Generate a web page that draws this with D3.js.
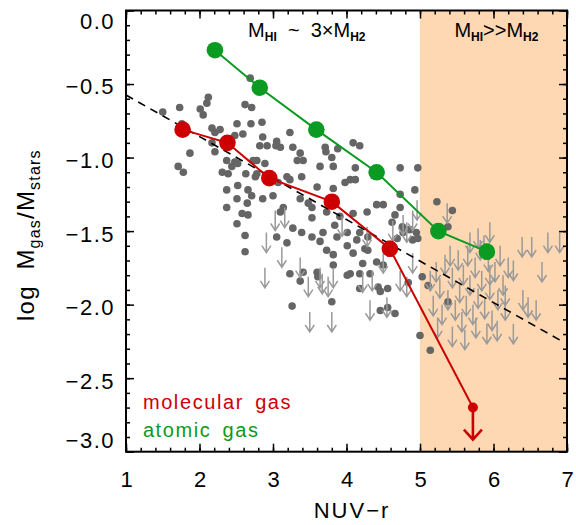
<!DOCTYPE html>
<html><head><meta charset="utf-8">
<script src="https://cdn.jsdelivr.net/npm/d3@7"></script>
<style>body{margin:0;background:#fff} svg{display:block}</style>
</head><body>
<script>
// ---- data ----
const xTicks = [1, 2, 3, 4, 5, 6, 7];
const xTickLabels = ["1", "2", "3", "4", "5", "6", "7"];
const yTicks = [0, -0.5, -1, -1.5, -2, -2.5, -3];
const yTickLabels = ["0.0", "\u22120.5", "\u22121.0", "\u22121.5", "\u22122.0", "\u22122.5", "\u22123.0"];
const hiDominatedRange = [5, 7];

const molX = [1.77, 2.38, 2.95, 3.80, 4.59];
const molY = [-0.81, -0.90, -1.14, -1.30, -1.62];
const molErr = [0.02, 0.04, 0.02, 0.02, 0.05];
const molLimitX = [5.72];
const molLimitY = [-2.70];

const atoX = [2.21, 2.82, 3.59, 4.41, 5.25, 5.91];
const atoY = [-0.27, -0.525, -0.81, -1.10, -1.50, -1.64];
const atoErr = [0.02, 0.02, 0.02, 0.02, 0.03, 0.05];

const fitX = [1.0, 6.9];
const fitY = [-0.575, -2.24];

const dotX = [1.50,1.73,2.12,2.10,2.01,2.05,2.62,2.71,1.76,1.87,1.71,1.78,2.17,2.21,2.28,2.17,2.21,2.51,2.48,2.59,
  2.70,2.85,2.86,2.82,2.92,3.05,3.04,3.10,3.23,3.27,3.37,3.33,3.41,3.71,3.72,3.88,3.80,4.09,4.18,2.37,
  2.48,2.52,2.73,2.78,2.89,2.44,2.31,2.39,2.63,2.78,2.76,3.19,3.23,3.39,3.64,3.82,4.12,4.05,4.12,3.98,
  2.37,2.52,2.51,2.66,2.71,2.86,3.00,3.07,3.37,3.60,3.82,3.84,3.48,3.53,2.37,2.65,2.58,2.66,2.51,3.14,
  3.10,3.53,3.73,4.09,4.28,4.41,4.50,4.66,4.73,4.73,4.93,4.73,4.97,2.62,3.05,3.27,3.39,3.53,3.68,3.64,
  3.87,4.18,4.14,4.29,4.01,4.09,4.25,4.29,3.19,3.73,3.82,2.62,3.23,3.41,3.60,3.82,4.05,4.18,4.69,4.77,
  4.90,3.37,3.61,3.26,3.91,3.84,4.01,4.62,4.76,4.86,4.95,4.97,5.23,5.44,5.38,4.41,4.50,4.01,4.22,4.32,
  4.18,4.43,4.46,4.56,4.84,3.80,4.46,4.56,4.66,5.00,5.14,5.03,5.11,5.38,2.69];
const dotY = [-0.69,-0.66,-0.59,-0.63,-0.67,-0.71,-0.64,-0.66,-0.77,-0.97,-1.06,-1.10,-0.80,-0.83,-0.81,-0.90,-0.96,-0.77,-0.85,-0.84,
  -0.77,-0.76,-0.86,-0.92,-0.92,-0.89,-0.92,-0.93,-0.83,-0.93,-0.97,-1.02,-1.02,-0.93,-0.96,-0.94,-1.00,-0.90,-0.92,-1.02,
  -1.03,-1.04,-1.02,-1.02,-1.04,-1.06,-1.10,-1.11,-1.11,-1.11,-1.13,-1.13,-1.15,-1.13,-1.06,-1.06,-1.07,-1.15,-1.15,-1.17,
  -1.22,-1.19,-1.28,-1.22,-1.26,-1.28,-1.26,-1.17,-1.28,-1.20,-1.21,-1.28,-1.31,-1.34,-1.34,-1.31,-1.38,-1.39,-1.45,-1.34,
  -1.37,-1.41,-1.37,-1.38,-1.37,-1.32,-1.32,-1.39,-1.34,-1.25,-1.22,-1.07,-1.07,-1.53,-1.54,-1.48,-1.51,-1.54,-1.51,-1.57,
  -1.54,-1.51,-1.56,-1.54,-1.60,-1.65,-1.62,-1.63,-1.58,-1.63,-1.66,-1.64,-1.79,-1.78,-1.78,-1.73,-1.79,-1.79,-1.55,-1.51,
  -1.56,-1.84,-1.81,-2.01,-1.40,-1.46,-1.51,-1.44,-1.47,-1.49,-1.51,-1.55,-1.30,-1.36,-1.47,-1.71,-1.73,-1.80,-1.72,-1.79,
  -1.89,-1.88,-1.91,-1.89,-1.85,-1.98,-2.04,-2.02,-2.06,-2.21,-2.31,-1.81,-1.87,-1.98,-0.46];

const limX = [3.03,3.16,2.91,3.12,3.37,3.94,4.28,4.63,4.77,4.82,4.90,4.50,4.90,2.89,3.64,3.82,3.48,3.50,3.67,3.75,
  3.80,4.35,4.22,4.32,4.55,4.73,4.82,4.96,5.37,5.95,6.39,6.52,6.27,5.44,5.61,5.91,6.27,6.40,6.47,6.74,
  6.90,6.66,6.58,5.14,5.22,5.27,5.34,5.38,5.44,5.48,5.52,5.54,5.59,5.63,5.65,5.68,5.72,5.75,5.79,5.82,
  5.84,5.88,5.93,5.95,5.98,6.02,6.06,6.09,6.13,6.16,6.20,5.30,5.41,5.57,5.76,5.95,5.68,5.79,5.87,5.18,
  5.24,6.05,6.16];
const limY = [-1.36,-1.34,-1.51,-1.61,-1.68,-1.40,-1.47,-1.43,-1.39,-1.44,-1.36,-1.65,-1.65,-1.75,-1.75,-1.75,-1.81,-2.05,-1.79,-1.81,
  -2.05,-1.77,-1.78,-1.97,-1.95,-1.77,-1.81,-1.29,-1.31,-1.44,-1.54,-1.54,-1.70,-2.15,-2.17,-2.13,-2.13,-1.90,-1.95,-1.51,
  -1.51,-1.71,-1.97,-1.77,-1.71,-1.82,-1.66,-1.90,-1.75,-1.97,-1.63,-1.85,-1.73,-1.94,-1.60,-1.80,-2.00,-1.68,-1.89,-1.56,
  -1.77,-1.96,-1.64,-1.83,-2.04,-1.71,-1.90,-1.60,-1.80,-1.97,-1.68,-2.00,-1.60,-2.05,-2.09,-1.73,-1.51,-1.48,-1.53,-1.94,
  -2.09,-2.11,-1.87];

// ---- layout ----
const W = 576, H = 525;
const m = {left: 126, right: 9, top: 10.5, bottom: 73.3};
const iw = W - m.left - m.right, ih = H - m.top - m.bottom;
const RED = "#cc0000", GREEN = "#0b9a22";
const FONT = "'Liberation Sans', Arial, sans-serif";

const svg = d3.select("body").append("svg").attr("width", W).attr("height", H);
const g = svg.append("g").attr("transform", `translate(${m.left},${m.top})`);
const x = d3.scaleLinear().domain([1, 7]).range([0, iw]);
const y = d3.scaleLinear().domain([-3, 0]).range([ih, 0]);

// shaded region
g.append("rect").attr("x", x(hiDominatedRange[0])).attr("y", 0)
  .attr("width", x(hiDominatedRange[1]) - x(hiDominatedRange[0])).attr("height", ih)
  .attr("fill", "#fdd8b2");

// gray dots
g.append("g").selectAll("circle").data(dotX.map((d, i) => [d, dotY[i]])).join("circle")
  .attr("cx", d => x(d[0])).attr("cy", d => y(d[1])).attr("r", 3.8).attr("fill", "#656565");

// upper-limit arrows
const aLen = 20, aHead = 7, aHalf = 4.5;
const ag = g.append("g").attr("stroke", "#9a9a9a").attr("stroke-width", 1.5).attr("fill", "none");
limX.forEach((d, i) => {
  const px = x(d), py = y(limY[i]);
  ag.append("path").attr("d",
    `M${px},${py}V${py + aLen}M${px - aHalf},${py + aLen - aHead}L${px},${py + aLen}L${px + aHalf},${py + aLen - aHead}`);
});

// dashed fit line
g.append("line").attr("x1", x(fitX[0])).attr("y1", y(fitY[0])).attr("x2", x(fitX[1])).attr("y2", y(fitY[1]))
  .attr("stroke", "#000").attr("stroke-width", 1.6).attr("stroke-dasharray", "8,6");

// molecular gas
const line = d3.line().x(d => x(d[0])).y(d => y(d[1]));
const molPts = molX.map((d, i) => [d, molY[i]]);
const molAll = molPts.concat([[molLimitX[0], molLimitY[0]]]);
g.append("path").attr("d", line(molAll)).attr("fill", "none").attr("stroke", RED).attr("stroke-width", 2);
// atomic gas
const atoPts = atoX.map((d, i) => [d, atoY[i]]);
g.append("path").attr("d", line(atoPts)).attr("fill", "none").attr("stroke", GREEN).attr("stroke-width", 2);

function errBars(pts, errs, col) {
  const eg = g.append("g").attr("stroke", col).attr("stroke-width", 1.5);
  pts.forEach((p, i) => {
    const px = x(p[0]), y1 = y(p[1] + errs[i]), y2 = y(p[1] - errs[i]);
    eg.append("path").attr("d", `M${px},${y1}V${y2}M${px - 3},${y1}H${px + 3}M${px - 3},${y2}H${px + 3}`);
  });
}
errBars(molPts, molErr, RED);
errBars(atoPts, atoErr, GREEN);

g.append("g").selectAll("circle").data(molPts).join("circle")
  .attr("cx", d => x(d[0])).attr("cy", d => y(d[1])).attr("r", 8.3).attr("fill", RED);
g.append("g").selectAll("circle").data(atoPts).join("circle")
  .attr("cx", d => x(d[0])).attr("cy", d => y(d[1])).attr("r", 8.3).attr("fill", GREEN);

// molecular upper limit
{
  const px = x(molLimitX[0]), py = y(molLimitY[0]);
  g.append("path").attr("d", `M${px},${py}V${py + 32}M${px - 9},${py + 22}L${px},${py + 32}L${px + 9},${py + 22}`)
    .attr("fill", "none").attr("stroke", RED).attr("stroke-width", 2.6);
  g.append("circle").attr("cx", px).attr("cy", py).attr("r", 5).attr("fill", RED);
}

// axes
const axG = g.append("g");
function styleAxis(sel) {
  sel.select(".domain").remove();
  sel.selectAll(".tick line").attr("stroke", "#000").attr("stroke-width", 1.5);
  sel.selectAll("text").attr("font-family", FONT).attr("font-size", 22).attr("fill", "#000");
}
const xMinor = d3.range(1, 7.001, 0.2).map(v => +v.toFixed(2));
const yMinor = d3.range(-3, 0.001, 0.1).map(v => +v.toFixed(2));

axG.append("g").attr("transform", `translate(0,${ih})`)
  .call(d3.axisBottom(x).tickValues(xMinor).tickSize(-4).tickFormat("")).call(styleAxis);
axG.append("g").attr("transform", `translate(0,${ih})`)
  .call(d3.axisBottom(x).tickValues(xTicks).tickSize(-8).tickPadding(20).tickFormat((d, i) => xTickLabels[i]))
  .call(styleAxis);
axG.append("g").call(d3.axisTop(x).tickValues(xMinor).tickSize(-4).tickFormat("")).call(styleAxis);
axG.append("g").call(d3.axisTop(x).tickValues(xTicks).tickSize(-8).tickFormat("")).call(styleAxis);

axG.append("g").call(d3.axisLeft(y).tickValues(yMinor).tickSize(-4).tickFormat("")).call(styleAxis);
const yAx = axG.append("g")
  .call(d3.axisLeft(y).tickValues(yTicks).tickSize(-8).tickPadding(11).tickFormat((d, i) => yTickLabels[i]))
  .call(styleAxis);
yAx.selectAll(".tick text").attr("letter-spacing", 1.5).attr("dy", (d) => d === 0 ? "0.82em" : (d === -3 ? "-0.2em" : "0.45em"));
axG.append("g").attr("transform", `translate(${iw},0)`)
  .call(d3.axisRight(y).tickValues(yMinor).tickSize(-4).tickFormat("")).call(styleAxis);
axG.append("g").attr("transform", `translate(${iw},0)`)
  .call(d3.axisRight(y).tickValues(yTicks).tickSize(-8).tickFormat("")).call(styleAxis);

g.append("rect").attr("x", 0).attr("y", 0).attr("width", iw).attr("height", ih)
  .attr("fill", "none").attr("stroke", "#000").attr("stroke-width", 2);

// axis titles
svg.append("text").attr("x", 352).attr("y", 518).attr("text-anchor", "middle")
  .attr("font-family", FONT).attr("font-size", 22).attr("letter-spacing", 2).text("NUV\u2212r");

const yt = svg.append("text").attr("transform", `translate(34,${m.top + ih / 2 + 4}) rotate(-90)`)
  .attr("text-anchor", "middle").attr("font-family", FONT).attr("font-size", 24).attr("letter-spacing", 1.2)
  .style("white-space", "pre");
yt.append("tspan").text("log  M");
yt.append("tspan").attr("font-size", 16).attr("dy", 6).text("gas");
yt.append("tspan").attr("dy", -6).text("/M");
yt.append("tspan").attr("font-size", 16).attr("dy", 6).text("stars");

// region labels
function regionLabel(cx, parts) {
  const t = g.append("text").attr("x", x(cx)).attr("y", y(-0.18)).attr("text-anchor", "middle")
    .attr("font-family", FONT).attr("font-size", 20).attr("fill", "#000").style("white-space", "pre");
  parts.forEach(p => {
    const s = t.append("tspan").text(p[0]);
    if (p[1] === "sub") s.attr("font-size", 12).attr("font-weight", "bold").attr("dy", 4);
    if (p[1] === "up") s.attr("dy", -4);
  });
}
regionLabel(3.46, [["M"], ["HI", "sub"], ["  ~  3\u00d7M", "up"], ["H2", "sub"]]);
regionLabel(6.04, [["M"], ["HI", "sub"], [">>M", "up"], ["H2", "sub"]]);

// legend
g.append("text").attr("x", x(1.23)).attr("y", y(-2.71)).attr("font-family", FONT).attr("font-size", 20)
  .attr("letter-spacing", 1.6).attr("word-spacing", 4).attr("fill", RED).text("molecular gas");
g.append("text").attr("x", x(1.23)).attr("y", y(-2.90)).attr("font-family", FONT).attr("font-size", 20)
  .attr("letter-spacing", 1.6).attr("word-spacing", 4).attr("fill", GREEN).text("atomic gas");
</script>
</body></html>
